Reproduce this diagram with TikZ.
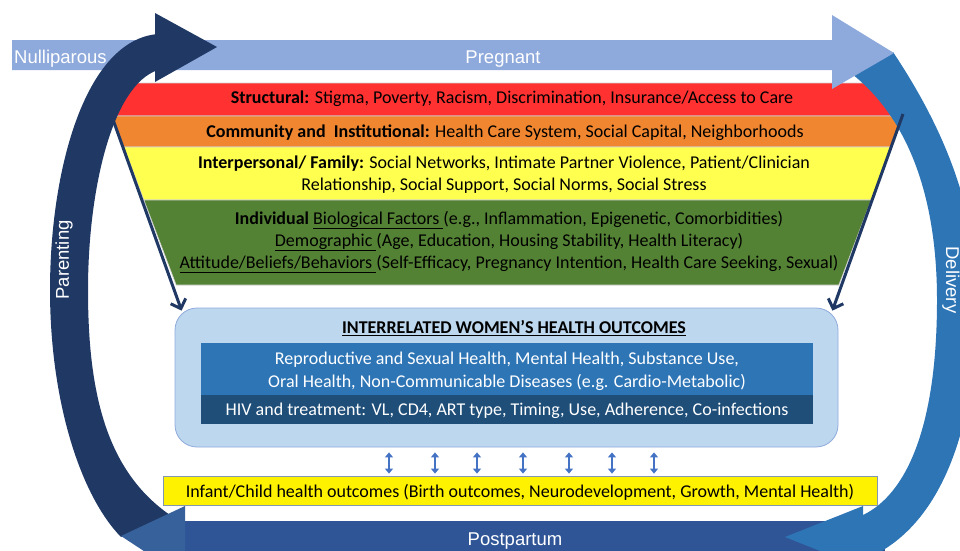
\documentclass[tikz,border=0pt]{standalone}
\usepackage{fontspec}
\setmainfont{Carlito}
\newfontfamily\arialf{Liberation Sans}
\usetikzlibrary{arrows.meta}
\newcommand\undl[1]{\underline{#1\vphantom{gp}}}

\definecolor{cPreg}{HTML}{8EA9DB}
\definecolor{cDeliv}{HTML}{2E75B6}
\definecolor{cPost}{HTML}{2F5597}
\definecolor{cPostHead}{HTML}{36619A}
\definecolor{cParent}{HTML}{1F3864}
\definecolor{cRed}{HTML}{FF3131}
\definecolor{cOrange}{HTML}{F0862F}
\definecolor{cYellow}{HTML}{FFFF50}
\definecolor{cGreen}{HTML}{548235}
\definecolor{cOutBox}{HTML}{BDD7EE}
\definecolor{cOutLine}{HTML}{8FAADC}
\definecolor{cMid}{HTML}{2E75B6}
\definecolor{cDark}{HTML}{1F4E79}
\definecolor{cSmall}{HTML}{4472C4}
\definecolor{cInfLine}{HTML}{8497B0}

\begin{document}
\begin{tikzpicture}[x=1pt,y=-1pt,
  arrowlabel/.style={text=white, font=\arialf\fontsize{18.5}{22}\selectfont, inner sep=0pt},
  ftxt/.style={font=\fontsize{18}{22}\selectfont, align=center, inner sep=0pt, text=black},
  band/.style={draw=gray!35, line width=0.6pt},
  funnelarrow/.style={draw=cParent, line width=3pt, -{Straight Barb[length=8pt,width=16pt]}},
  dbl/.style={draw=cSmall, line width=2.2pt, {Triangle[length=5pt,width=8pt]}-{Triangle[length=5pt,width=8pt]}},
  box/.style={minimum width=612pt, inner sep=0pt},
  boxtxt/.style={inner sep=0pt, text=white, align=center, font=\fontsize{18}{23}\selectfont}
]
\useasboundingbox (0,0) rectangle (960,550);
\clip (0,0) rectangle (960,550);

% Postpartum shaft (its head is laid over the parenting arc later)
\fill[cPost] (180,521) rectangle (885,556);

% Socio-ecological funnel
\fill[cRed, band] (100,83) -- (905,83) -- (903,116) -- (112,116) -- cycle;
\fill[cOrange, band] (112,116) -- (903,116) -- (891.2,147) -- (123.8,147) -- cycle;
\fill[cYellow, band] (123.8,147) -- (891.2,147) -- (871.1,200) -- (143.9,200) -- cycle;
\fill[cGreen, band] (143.9,200) -- (871.1,200) -- (838.8,285) -- (176.2,285) -- cycle;

\node[ftxt] (tS) at (512,99) {\textbf{Structural:} Stigma, Poverty, Racism, Discrimination, Insurance/Access to Care};
\node[ftxt] (tC) at (505,133) {\textbf{Community and\ \ Institutional:} Health Care System, Social Capital, Neighborhoods};
\node[ftxt] (tI) at (504,175) {\textbf{Interpersonal/ Family:} Social Networks, Intimate Partner Violence, Patient/Clinician\\Relationship, Social Support, Social Norms, Social Stress};
\node[ftxt] (tV) at (509,242) {\textbf{Individual} \undl{Biological Factors }(e.g., Inflammation, Epigenetic, Comorbidities)\\\undl{Demographic }(Age, Education, Housing Stability, Health Literacy)\\\undl{Attitude/Beliefs/Behaviors }(Self-Efficacy, Pregnancy Intention, Health Care Seeking, Sexual)};

% Delivery arc with its head
\fill[cDeliv] (893,52) .. controls (945,130) and (977,210) .. (977,300)
  .. controls (977,430) and (940,530) .. (863,560) -- (863,568) -- (785,537) -- (863,506) -- (863,515)
  .. controls (905,495) and (937,430) .. (937,300)
  .. controls (937,200) and (910,120) .. (852,74) -- cycle;
\node[arrowlabel, rotate=-90] (deliv) at (951,280) {Delivery};

% Pregnant arrow
\fill[cPreg] (12,40) -- (832,40) -- (832,15) -- (894,53) -- (832,89) -- (832,70) -- (12,70) -- cycle;
\node[arrowlabel, anchor=west] (nulli) at (14,59) {Nulliparous};
\node[arrowlabel] (preg) at (503,59) {Pregnant};

% Parenting arc with its head
\fill[cParent] (158,34) .. controls (85,40) and (50,170) .. (50,290)
  .. controls (50,400) and (80,495) .. (121,537) -- (170,515)
  .. controls (105,470) and (88,390) .. (88,290)
  .. controls (88,190) and (112,85) .. (158,70) -- cycle;
\fill[cParent] (155,13) -- (217,47) -- (155,82) -- cycle;
\node[arrowlabel, rotate=90] (parent) at (64,260) {Parenting};

% Postpartum head and label
\fill[cPostHead] (185,506) -- (121,536) -- (185,578) -- cycle;
\node[arrowlabel] (post) at (515,541) {Postpartum};

% Women's health outcomes
\node[fill=cOutBox, draw=cOutLine, line width=0.8pt, rounded corners=22pt,
      minimum width=663pt, minimum height=139pt] (ob) at (506.5,377.5) {};
\node[font=\bfseries\fontsize{18}{22}\selectfont, inner sep=0pt] (title) at (514,328) {\underline{INTERRELATED WOMEN’S HEALTH OUTCOMES}};
\node[box, fill=cMid, minimum height=52pt] (b1) at (507,369) {};
\node[box, fill=cDark, minimum height=29pt] (b2) at (507,409.5) {};
\node[boxtxt] (t1) at (507,371) {Reproductive and Sexual Health, Mental Health, Substance Use,\\Oral Health, Non-Communicable Diseases (e.g. Cardio-Metabolic)};
\node[boxtxt] (t2) at (507,411) {HIV and treatment: VL, CD4, ART type, Timing, Use, Adherence, Co-infections};

% Funnel edges feeding the outcomes box
\coordinate (fl) at (111,114);
\coordinate (fr) at (903,114);
\coordinate (tl) at ([shift={(7,3)}]ob.north west);
\coordinate (tr) at ([shift={(-6,3)}]ob.north east);
\draw[funnelarrow] (fl) -- (tl);
\draw[funnelarrow] (fr) -- (tr);

% Infant / child outcomes
\node[fill=yellow, draw=cInfLine, line width=0.8pt, minimum width=714pt, minimum height=29pt,
      inner sep=0pt] (yb) at (520,490.5) {};
\node[inner sep=0pt, font=\fontsize{18}{22}\selectfont] (ybt) at (520,492.5)
      {Infant/Child health outcomes (Birth outcomes, Neurodevelopment, Growth, Mental Health)};

\foreach \x in {389,435,477,523,569,612,654}
  \draw[dbl, shorten <=5pt, shorten >=2pt] (\x,0 |- ob.south) -- (\x,0 |- yb.north);

\end{tikzpicture}
\end{document}
